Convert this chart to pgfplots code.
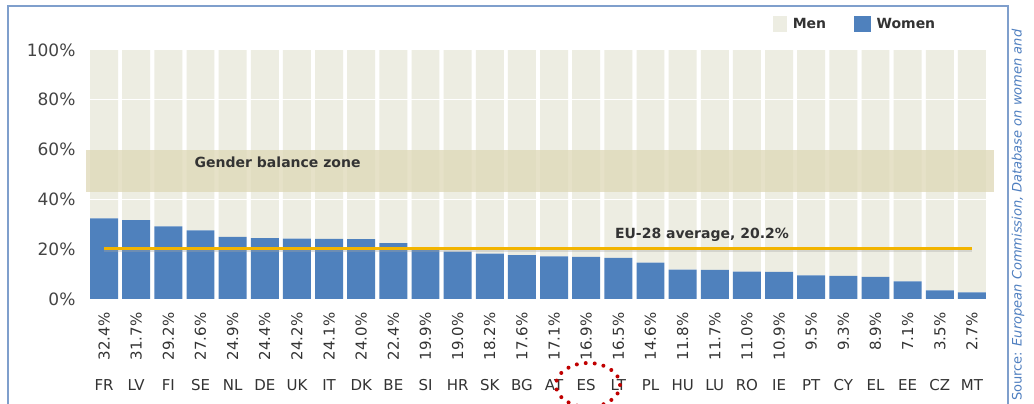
\documentclass[border=0pt]{standalone}
\usepackage{pgfplots}
\pgfplotsset{compat=1.18}
\usepackage{pgfplotstable}
\usepackage{fontspec}
\setmainfont{DejaVu Sans}
\definecolor{menc}{HTML}{EDEDE2}
\definecolor{womenc}{HTML}{4F81BD}
\definecolor{bandc}{HTML}{DED8B6}
\definecolor{avgc}{HTML}{F2B400}
\definecolor{framec}{HTML}{7F9FCC}
\definecolor{txt}{HTML}{333333}
\definecolor{ticktxt}{HTML}{444444}
\definecolor{srcc}{HTML}{4F7FC0}
\definecolor{circc}{HTML}{C00000}

\pgfplotstableread{
x country women men
0 FR 32.4 67.6
1 LV 31.7 68.3
2 FI 29.2 70.8
3 SE 27.6 72.4
4 NL 24.9 75.1
5 DE 24.4 75.6
6 UK 24.2 75.8
7 IT 24.1 75.9
8 DK 24.0 76.0
9 BE 22.4 77.6
10 SI 19.9 80.1
11 HR 19.0 81.0
12 SK 18.2 81.8
13 BG 17.6 82.4
14 AT 17.1 82.9
15 ES 16.9 83.1
16 LT 16.5 83.5
17 PL 14.6 85.4
18 HU 11.8 88.2
19 LU 11.7 88.3
20 RO 11.0 89.0
21 IE 10.9 89.1
22 PT 9.5 90.5
23 CY 9.3 90.7
24 EL 8.9 91.1
25 EE 7.1 92.9
26 CZ 3.5 96.5
27 MT 2.7 97.3
}\data

\pgfplotstableread{
x avg
0 20.2
27 20.2
}\avgdata

\begin{document}
\begin{tikzpicture}
\useasboundingbox (0,0) rectangle (1034pt,404pt);
\fill[white] (0,0) rectangle (1034pt,404pt);
\draw[framec, line width=1.5pt] (8pt,0) -- (8pt,398pt) -- (1008pt,398pt) -- (1008pt,0);

\begin{axis}[
  at={(88pt,105pt)}, anchor=south west, scale only axis,
  width=900pt, height=249pt,
  xmin=-0.5, xmax=27.5, ymin=0, ymax=100,
  ybar stacked, bar width=0.87,
  axis line style={draw=none}, major tick length=0pt,
  clip=false,
  /pgf/number format/assume math mode=true,
  ytick={0,20,...,100},
  yticklabel={\pgfmathprintnumber{\tick}\%},
  yticklabel style={font=\fontsize{17}{17}\selectfont, text=ticktxt, xshift=-9pt},
  xtick={0,...,27},
  xticklabels={32.4\%,31.7\%,29.2\%,27.6\%,24.9\%,24.4\%,24.2\%,24.1\%,24.0\%,22.4\%,19.9\%,19.0\%,18.2\%,17.6\%,17.1\%,16.9\%,16.5\%,14.6\%,11.8\%,11.7\%,11.0\%,10.9\%,9.5\%,9.3\%,8.9\%,7.1\%,3.5\%,2.7\%},
  xticklabel style={yshift=-10pt, rotate=90, anchor=east, font=\fontsize{15}{15}\selectfont, text=txt},
  legend style={at={(0.758,1.145)}, anchor=north west, draw=none, fill=none,
    font=\bfseries\fontsize{14}{14}\selectfont, text=txt,
    /tikz/every odd column/.append style={column sep=4pt},
    /tikz/every even column/.append style={column sep=26pt}},
  legend columns=2,
]
\addplot[fill=womenc, draw=none, forget plot] table[x=x, y=women]{\data};
\addplot[fill=menc, draw=none, forget plot] table[x=x, y=men]{\data};
\addlegendimage{legend image code/.code={\fill[menc] (0pt,-7pt) rectangle (13pt,8pt);}}
\addlegendentry{Men}
\addlegendimage{legend image code/.code={\fill[womenc] (0pt,-7pt) rectangle (16pt,8pt);}}
\addlegendentry{Women}
\end{axis}

\begin{axis}[
  at={(88pt,105pt)}, anchor=south west, scale only axis,
  width=900pt, height=249pt,
  xmin=-0.5, xmax=27.5, ymin=0, ymax=100,
  axis line style={draw=none}, major tick length=0pt,
  clip=false,
  ytick=\empty,
  xtick={0,...,27},
  xticklabels={FR,LV,FI,SE,NL,DE,UK,IT,DK,BE,SI,HR,SK,BG,AT,ES,LT,PL,HU,LU,RO,IE,PT,CY,EL,EE,CZ,MT},
  xticklabel style={yshift=-77pt, font=\fontsize{15}{15}\selectfont, text=txt},
]
\draw[white, line width=1pt] (axis cs:-0.5,40) -- (axis cs:27.5,40);
\draw[white, line width=1pt] (axis cs:-0.5,80) -- (axis cs:27.5,80);
\draw[white, line width=1pt] (axis cs:-0.5,100) -- (axis cs:27.5,100);
\fill[bandc, fill opacity=0.75] (axis cs:-0.56,43) rectangle (axis cs:27.7,60);
\node[font=\bfseries\fontsize{14}{14}\selectfont, text=txt] at (axis cs:5.4,55) {Gender balance zone};
\addplot[black!35, line width=3.5pt, opacity=0.35, yshift=-1.2pt] table[x=x, y=avg]{\avgdata};
\addplot[avgc, line width=3.5pt] table[x=x, y=avg]{\avgdata};
\node[font=\bfseries\fontsize{14}{14}\selectfont, text=txt] at (axis cs:18.6,25.7) {EU-28 average, 20.2\%};
\end{axis}

\draw[circc, line width=4pt, dash pattern=on 0pt off 9pt, line cap=round] (588pt,19pt) ellipse (32pt and 22pt);
\node[rotate=90, anchor=west, inner sep=0pt, text=srcc, font=\fontsize{13}{13}\selectfont] at (1018pt,3pt) {Source: \textit{European Commission, Database on women and}};
\end{tikzpicture}
\end{document}
